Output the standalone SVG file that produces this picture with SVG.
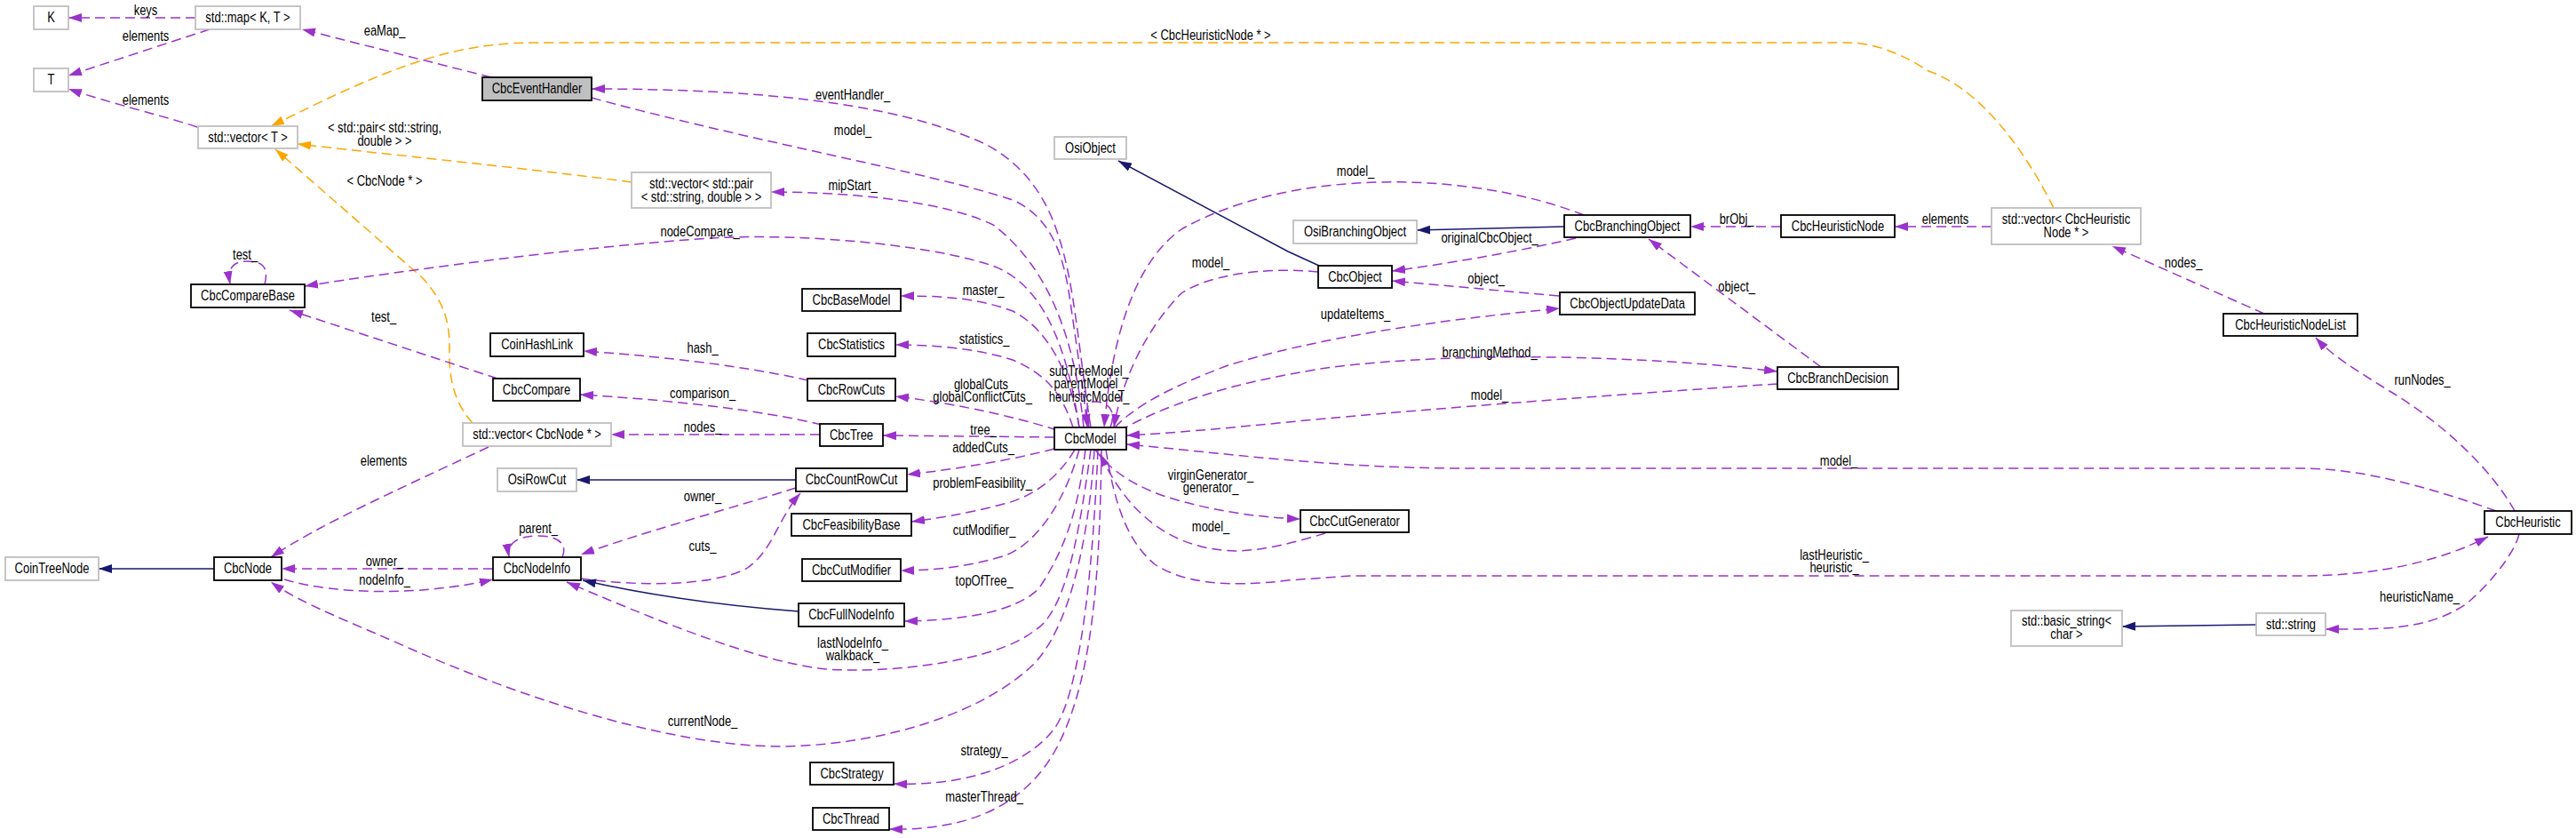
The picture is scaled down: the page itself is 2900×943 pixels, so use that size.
<svg xmlns="http://www.w3.org/2000/svg" width="2900" height="943" viewBox="0 0 2900 943">
<style>
text{font-family:"Liberation Sans",Arial,sans-serif;font-size:16px;fill:#000;text-anchor:middle;transform-box:fill-box;transform-origin:center;transform:translateY(1px) scaleX(0.81)}
.nd rect{fill:#fff;stroke:#000;stroke-width:1.8}
.ud rect{fill:#fff;stroke:#bfbfbf;stroke-width:1.8}
.p{fill:none;stroke:#9a32cd;stroke-width:1.5;stroke-dasharray:11,6;marker-end:url(#ap)}
.o{fill:none;stroke:#ffa500;stroke-width:1.5;stroke-dasharray:11,6;marker-end:url(#ao)}
.n{fill:none;stroke:#191970;stroke-width:1.5;marker-end:url(#an)}
</style>
<defs>
<marker id="ap" markerWidth="16" markerHeight="12" refX="15" refY="6" orient="auto" markerUnits="userSpaceOnUse"><path d="M0,1 L15,6 L0,11 z" fill="#9a32cd"/></marker>
<marker id="ao" markerWidth="16" markerHeight="12" refX="15" refY="6" orient="auto" markerUnits="userSpaceOnUse"><path d="M0,1 L15,6 L0,11 z" fill="#ffa500"/></marker>
<marker id="an" markerWidth="16" markerHeight="12" refX="15" refY="6" orient="auto" markerUnits="userSpaceOnUse"><path d="M0,1 L15,6 L0,11 z" fill="#191970"/></marker>
</defs>
<rect width="2900" height="943" fill="#fff"/>
<g id="edges">
<path class="p" d="M220,20 L77,20"/><text x="164" y="16">keys</text>
<path class="p" d="M236,33 L77,85"/><text x="164" y="45">elements</text>
<path class="p" d="M222,143 C190,132 120,115 77,100"/><text x="164" y="117">elements</text>
<path class="p" d="M553,87 L340,33"/><text x="433" y="39">eaMap_</text>
<path class="o" d="M2312,234 C2280,170 2230,100 2171,80 C2140,60 2110,48 2079,48 L600,48 C500,48 420,85 305,142"/><text x="1363" y="44">&lt; CbcHeuristicNode * &gt;</text>
<path class="o" d="M711,205 C600,190 420,172 335,162"/><text x="433" y="148">&lt; std::pair&lt; std::string,</text><text x="433" y="163">double &gt; &gt;</text>
<path class="o" d="M532,476 C512,455 505,425 506,395 C507,355 495,335 476,313 L310,168"/><text x="433" y="208">&lt; CbcNode * &gt;</text>
<path class="p" d="M1228,481 C1215,400 1210,320 1192,267 C1175,210 1140,175 1100,158 C1000,115 850,100 666,100"/><text x="960" y="111">eventHandler_</text>
<path class="p" d="M666,110 C850,160 1050,195 1140,225 C1185,245 1198,290 1205,340 C1212,390 1220,440 1224,481"/><text x="960" y="151">model_</text>
<path class="p" d="M1220,481 C1210,380 1180,300 1118,253 C1060,225 950,216 868,216"/><text x="960" y="213">mipStart_</text>
<path class="p" d="M1215,481 C1200,380 1170,320 1120,300 C1050,275 900,262 800,268 C650,278 450,305 343,322"/><text x="788" y="265">nodeCompare_</text>
<path class="p" d="M298,320 C303,300 295,294 278,294 C262,294 256,302 259,320"/><text x="276" y="291">test_</text>
<path class="p" d="M560,426 L326,349"/><text x="432" y="361">test_</text>
<path class="p" d="M1783,242 C1650,190 1450,190 1330,258 C1270,300 1250,400 1243,481"/><text x="1526" y="197">model_</text>
<path class="p" d="M1484,306 C1420,300 1360,310 1330,330 C1290,370 1262,430 1254,481"/><text x="1363" y="300">model_</text>
<path class="n" d="M1485,299 L1450,283 L1259,181"/>
<path class="n" d="M1761,255 L1595,259"/>
<path class="p" d="M1774,268 C1700,285 1620,298 1567,305"/><text x="1677" y="272">originalCbcObject_</text>
<path class="p" d="M2005,255 L1903,255"/><text x="1955" y="251">brObj_</text>
<path class="p" d="M2242,255 L2133,255"/><text x="2190" y="251">elements</text>
<path class="p" d="M2549,353 L2378,277"/><text x="2458" y="300">nodes_</text>
<path class="p" d="M2831,575 C2800,520 2740,470 2690,440 C2650,415 2625,400 2607,380"/><text x="2727" y="432">runNodes_</text>
<path class="p" d="M1755,333 L1567,316"/><text x="1673" y="318">object_</text>
<path class="p" d="M1255,481 C1280,455 1320,435 1380,412 C1480,380 1620,360 1756,347"/><text x="1526" y="358">updateItems_</text>
<path class="p" d="M1260,485 C1330,445 1420,425 1500,413 C1650,395 1850,400 2001,418"/><text x="1677" y="401">branchingMethod_</text>
<path class="p" d="M2001,432 C1800,445 1550,465 1450,475 C1380,482 1310,488 1268,490"/><text x="1677" y="449">model_</text>
<path class="p" d="M2050,413 L1856,269"/><text x="1955" y="327">object_</text>
<path class="p" d="M2810,575 C2740,550 2660,527 2591,527 L1650,527 C1500,527 1380,510 1268,500"/><text x="2070" y="523">model_</text>
<path class="p" d="M1245,506 C1255,570 1270,610 1300,635 C1330,655 1380,662 1450,653 L1520,648 L2591,648 C2680,648 2750,630 2801,604"/><text x="2065" y="629">lastHeuristic_</text><text x="2065" y="643">heuristic_</text>
<path class="p" d="M1215,481 C1205,420 1180,370 1140,350 C1100,335 1060,333 1014,333"/><text x="1107" y="331">master_</text>
<path class="p" d="M1208,481 C1195,440 1175,420 1140,405 C1100,392 1050,388 1008,388"/><text x="1108" y="386">statistics_</text>
<path class="p" d="M1190,484 C1130,465 1060,452 1008,446"/><text x="1108" y="437">globalCuts_</text><text x="1106" y="451">globalConflictCuts_</text>
<path class="p" d="M1250,481 C1258,460 1245,452 1232,452 C1222,452 1222,465 1226,481"/><text x="1226" y="422">subTreeModel_</text><text x="1226" y="436">parentModel_</text><text x="1226" y="451">heuristicModel_</text>
<path class="p" d="M1187,492 L994,490"/><text x="1107" y="488">tree_</text>
<path class="p" d="M923,489 L688,489"/><text x="791" y="485">nodes_</text>
<path class="p" d="M925,478 C850,460 750,450 653,444"/><text x="791" y="447">comparison_</text>
<path class="p" d="M910,428 C830,410 730,400 657,395"/><text x="791" y="396">hash_</text>
<path class="p" d="M1187,505 C1130,520 1060,530 1021,534"/><text x="1107" y="508">addedCuts_</text>
<path class="n" d="M896,540 L649,540"/>
<path class="p" d="M1210,506 C1190,540 1160,560 1130,567 C1090,578 1050,584 1026,587"/><text x="1106" y="548">problemFeasibility_</text>
<path class="p" d="M654,651 C720,660 800,660 840,640 C870,620 875,585 901,555"/><text x="791" y="619">cuts_</text>
<path class="p" d="M896,549 C830,570 720,600 654,624"/><text x="791" y="563">owner_</text>
<path class="p" d="M633,627 C640,610 625,603 606,603 C585,603 570,610 573,627"/><text x="606" y="599">parent_</text>
<path class="p" d="M555,640 L317,640"/><text x="433" y="636">owner_</text>
<path class="p" d="M320,652 C380,670 480,670 555,652"/><text x="433" y="657">nodeInfo_</text>
<path class="p" d="M550,503 C450,550 360,590 305,627"/><text x="432" y="523">elements</text>
<path class="n" d="M241,640 L111,640"/>
<path class="n" d="M899,688 C820,682 740,672 656,653"/>
<path class="p" d="M1215,506 C1200,560 1170,610 1132,625 C1090,638 1050,642 1014,642"/><text x="1108" y="601">cutModifier_</text>
<path class="p" d="M1222,506 C1215,560 1205,610 1169,663 C1140,690 1080,698 1018,699"/><text x="1108" y="658">topOfTree_</text>
<path class="p" d="M1228,506 C1215,600 1200,690 1164,710 C1120,745 1000,758 930,753 C850,745 720,690 638,655"/><text x="960" y="728">lastNodeInfo_</text><text x="960" y="742">walkback_</text>
<path class="p" d="M1232,506 C1225,620 1200,710 1164,747 C1110,800 1000,838 880,840 C760,840 600,790 462,730 C400,702 340,680 305,655"/><text x="791" y="816">currentNode_</text>
<path class="p" d="M1236,506 C1230,650 1215,780 1187,820 C1160,855 1100,885 1006,882"/><text x="1108" y="849">strategy_</text>
<path class="p" d="M1240,506 C1238,650 1230,760 1192,837 C1160,900 1100,935 1001,933"/><text x="1108" y="901">masterThread_</text>
<path class="p" d="M1233,506 C1250,530 1280,550 1326,563 C1380,578 1430,583 1464,584"/><text x="1363" y="539">virginGenerator_</text><text x="1363" y="553">generator_</text>
<path class="p" d="M1492,600 C1460,610 1420,620 1390,620 C1320,618 1270,580 1238,510"/><text x="1363" y="597">model_</text>
<path class="p" d="M2836,601 C2830,625 2800,660 2776,680 C2730,710 2680,708 2618,708"/><text x="2724" y="676">heuristicName_</text>
<path class="n" d="M2540,703 L2389,705"/>
</g>
<g id="n-K" class="ud"><rect x="38" y="7" width="39" height="26"/><text x="57.5" y="24.5">K</text></g>
<g id="n-map" class="ud"><rect x="220" y="7" width="118" height="26"/><text x="279" y="24.5">std::map&lt; K, T &gt;</text></g>
<g id="n-T" class="ud"><rect x="38" y="77" width="39" height="26"/><text x="57.5" y="94.5">T</text></g>
<g id="n-CbcEventHandler" class="nd"><rect x="543" y="87" width="123" height="26" style="fill:#bfbfbf"/><text x="604.5" y="104.5">CbcEventHandler</text></g>
<g id="n-vecT" class="ud"><rect x="223" y="142" width="112" height="25"/><text x="279" y="159">std::vector&lt; T &gt;</text></g>
<g id="n-vecPair" class="ud"><rect x="711" y="194" width="157" height="40"/><text x="789.5" y="211">std::vector&lt; std::pair</text><text x="789.5" y="226">&lt; std::string, double &gt; &gt;</text></g>
<g id="n-OsiObject" class="ud"><rect x="1187" y="154" width="81" height="25"/><text x="1227.5" y="171">OsiObject</text></g>
<g id="n-OsiBranchingObject" class="ud"><rect x="1456" y="248" width="139" height="26"/><text x="1525.5" y="265.5">OsiBranchingObject</text></g>
<g id="n-CbcBranchingObject" class="nd"><rect x="1761" y="242" width="142" height="25"/><text x="1832" y="259">CbcBranchingObject</text></g>
<g id="n-CbcHeuristicNode" class="nd"><rect x="2005" y="242" width="128" height="25"/><text x="2069" y="259">CbcHeuristicNode</text></g>
<g id="n-vecHN" class="ud"><rect x="2242" y="234" width="168" height="41"/><text x="2326" y="251">std::vector&lt; CbcHeuristic</text><text x="2326" y="266">Node * &gt;</text></g>
<g id="n-CbcObject" class="nd"><rect x="1484" y="299" width="83" height="25"/><text x="1525.5" y="316">CbcObject</text></g>
<g id="n-CbcObjectUpdateData" class="nd"><rect x="1756" y="329" width="152" height="25"/><text x="1832" y="346">CbcObjectUpdateData</text></g>
<g id="n-CbcBranchDecision" class="nd"><rect x="2001" y="413" width="136" height="25"/><text x="2069" y="430">CbcBranchDecision</text></g>
<g id="n-CbcHeuristicNodeList" class="nd"><rect x="2503" y="353" width="151" height="25"/><text x="2578.5" y="370">CbcHeuristicNodeList</text></g>
<g id="n-CbcHeuristic" class="nd"><rect x="2797" y="575" width="98" height="26"/><text x="2846" y="592.5">CbcHeuristic</text></g>
<g id="n-CbcCutGenerator" class="nd"><rect x="1464" y="574" width="122" height="25"/><text x="1525" y="591">CbcCutGenerator</text></g>
<g id="n-basicString" class="ud"><rect x="2264" y="687" width="125" height="40"/><text x="2326.5" y="703">std::basic_string&lt;</text><text x="2326.5" y="718">char &gt;</text></g>
<g id="n-string" class="ud"><rect x="2540" y="690" width="78" height="25"/><text x="2579" y="707">std::string</text></g>
<g id="n-CbcCompareBase" class="nd"><rect x="215" y="320" width="128" height="26"/><text x="279" y="337.5">CbcCompareBase</text></g>
<g id="n-CoinHashLink" class="nd"><rect x="552" y="375" width="105" height="26"/><text x="604.5" y="392.5">CoinHashLink</text></g>
<g id="n-CbcCompare" class="nd"><rect x="555" y="426" width="98" height="25"/><text x="604" y="443">CbcCompare</text></g>
<g id="n-vecNode" class="ud"><rect x="521" y="476" width="167" height="26"/><text x="604.5" y="493.5">std::vector&lt; CbcNode * &gt;</text></g>
<g id="n-OsiRowCut" class="ud"><rect x="560" y="527" width="89" height="26"/><text x="604.5" y="544.5">OsiRowCut</text></g>
<g id="n-CoinTreeNode" class="ud"><rect x="6" y="627" width="105" height="26"/><text x="58.5" y="644.5">CoinTreeNode</text></g>
<g id="n-CbcNode" class="nd"><rect x="241" y="627" width="76" height="26"/><text x="279" y="644.5">CbcNode</text></g>
<g id="n-CbcNodeInfo" class="nd"><rect x="555" y="627" width="99" height="26"/><text x="604.5" y="644.5">CbcNodeInfo</text></g>
<g id="n-CbcBaseModel" class="nd"><rect x="903" y="325" width="111" height="25"/><text x="958.5" y="342">CbcBaseModel</text></g>
<g id="n-CbcStatistics" class="nd"><rect x="909" y="375" width="99" height="26"/><text x="958.5" y="392.5">CbcStatistics</text></g>
<g id="n-CbcRowCuts" class="nd"><rect x="909" y="426" width="99" height="25"/><text x="958.5" y="443">CbcRowCuts</text></g>
<g id="n-CbcTree" class="nd"><rect x="923" y="477" width="71" height="25"/><text x="958.5" y="494">CbcTree</text></g>
<g id="n-CbcModel" class="nd"><rect x="1187" y="481" width="81" height="25"/><text x="1227.5" y="498">CbcModel</text></g>
<g id="n-CbcCountRowCut" class="nd"><rect x="896" y="527" width="125" height="26"/><text x="958.5" y="544.5">CbcCountRowCut</text></g>
<g id="n-CbcFeasibilityBase" class="nd"><rect x="891" y="578" width="135" height="25"/><text x="958.5" y="595">CbcFeasibilityBase</text></g>
<g id="n-CbcCutModifier" class="nd"><rect x="903" y="629" width="111" height="25"/><text x="958.5" y="646">CbcCutModifier</text></g>
<g id="n-CbcFullNodeInfo" class="nd"><rect x="899" y="679" width="119" height="26"/><text x="958.5" y="696.5">CbcFullNodeInfo</text></g>
<g id="n-CbcStrategy" class="nd"><rect x="912" y="858" width="94" height="25"/><text x="959" y="875">CbcStrategy</text></g>
<g id="n-CbcThread" class="nd"><rect x="915" y="909" width="86" height="25"/><text x="958" y="926">CbcThread</text></g>
</svg>
